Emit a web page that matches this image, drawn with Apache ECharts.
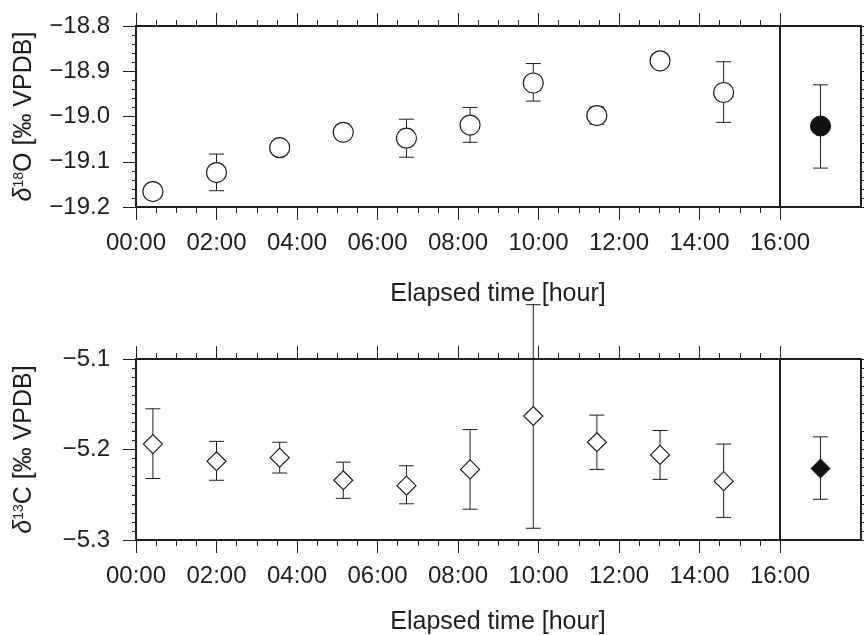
<!DOCTYPE html>
<html>
<head>
<meta charset="utf-8">
<script src="https://cdn.jsdelivr.net/npm/echarts@6/dist/echarts.min.js"></script>
<style>
  html, body { margin: 0; padding: 0; background: #fff; }
  #chart { width: 864px; height: 635px; }
</style>
</head>
<body>
<div id="chart"></div>
<script>
// elapsed time of each measurement (hours)
var hours = [0.42, 2.0, 3.57, 5.15, 6.72, 8.3, 9.87, 11.45, 13.02, 14.6];

// d18O values with error bar limits
var d18O     = [-19.166, -19.124, -19.069, -19.035, -19.048, -19.019, -18.926, -18.998, -18.877, -18.947];
var d18OLow  = [-19.170, -19.164, -19.073, -19.039, -19.090, -19.057, -18.966, -19.017, -18.881, -19.013];
var d18OHigh = [-19.162, -19.083, -19.065, -19.031, -19.006, -18.980, -18.883, -18.979, -18.873, -18.879];

// d13C values with error bar limits
var d13C     = [-5.194, -5.213, -5.209, -5.234, -5.240, -5.222, -5.163, -5.192, -5.206, -5.235];
var d13CLow  = [-5.232, -5.234, -5.226, -5.254, -5.260, -5.266, -5.287, -5.222, -5.233, -5.275];
var d13CHigh = [-5.155, -5.191, -5.192, -5.214, -5.218, -5.178, -5.040, -5.162, -5.179, -5.194];

// mean values (right box)
var meanHour = 17.0;
var d18OMean = [-19.021, -19.114, -18.930]; // value, low, high
var d13CMean = [-5.221, -5.255, -5.186];

var ink = '#1e1e1e';
var font = 'Liberation Sans, Arial, sans-serif';

function pts(xs, ys) {
  return xs.map(function (x, i) { return [x, ys[i]]; });
}
function bars(xs, lo, hi) {
  return xs.map(function (x, i) { return [x, lo[i], hi[i]]; });
}

function errorBar(params, api) {
  var x = api.value(0);
  var top = api.coord([x, api.value(2)]);
  var bot = api.coord([x, api.value(1)]);
  var w = 7.5;
  var st = { stroke: ink, lineWidth: 1 };
  return {
    type: 'group',
    children: [
      { type: 'line', shape: { x1: top[0], y1: top[1], x2: bot[0], y2: bot[1] }, style: st },
      { type: 'line', shape: { x1: top[0] - w, y1: top[1], x2: top[0] + w, y2: top[1] }, style: st },
      { type: 'line', shape: { x1: bot[0] - w, y1: bot[1], x2: bot[0] + w, y2: bot[1] }, style: st }
    ]
  };
}

function hhmm(v) {
  return (v < 10 ? '0' : '') + v + ':00';
}

function timeAxis(gridIndex, pos) {
  return {
    type: 'value', gridIndex: gridIndex, position: pos,
    min: 0, max: 16, interval: 2,
    axisLine: { show: false, onZero: false },
    axisTick: { show: true, length: 13, lineStyle: { color: ink, width: 1 } },
    minorTick: { show: true, splitNumber: 4, length: 6, lineStyle: { color: ink, width: 1 } },
    splitLine: { show: false },
    axisLabel: {
      show: pos === 'bottom', margin: 24, color: ink, fontSize: 24, fontFamily: font,
      formatter: hhmm
    }
  };
}

function boxXAxis(gridIndex) {
  return {
    type: 'value', gridIndex: gridIndex, min: 16, max: 18,
    axisLine: { show: false, onZero: false }, axisTick: { show: false },
    axisLabel: { show: false }, splitLine: { show: false }
  };
}

function leftYAxis(gridIndex, min, max, minorSplit, nameRich) {
  return {
    type: 'value', gridIndex: gridIndex, position: 'left',
    min: min, max: max, interval: 0.1,
    axisLine: { show: false },
    axisTick: { show: true, length: 13, lineStyle: { color: ink, width: 1 } },
    minorTick: { show: true, splitNumber: minorSplit, length: 4, lineStyle: { color: ink, width: 1 } },
    splitLine: { show: false },
    axisLabel: {
      margin: 26, color: ink, fontSize: 24, fontFamily: font,
      formatter: function (v) { return v.toFixed(1).replace('-', '\u2212'); }
    },
    name: nameRich, nameLocation: 'middle', nameRotate: 90, nameGap: 98,
    nameTextStyle: {
      color: ink, fontSize: 25, fontFamily: font, lineHeight: 28,
      rich: {
        d: { fontStyle: 'italic', fontSize: 25, fontFamily: font, color: ink, lineHeight: 28 },
        s: { fontSize: 14, fontFamily: font, color: ink, verticalAlign: 'top', lineHeight: 14, padding: [2, 0, 0, 0] },
        t: { fontSize: 25, fontFamily: font, color: ink, lineHeight: 28 }
      }
    }
  };
}

function rightYAxis(gridIndex, min, max, step) {
  return {
    type: 'value', gridIndex: gridIndex, position: 'right',
    min: min, max: max, interval: step,
    axisLine: { show: false },
    axisTick: { show: true, length: 3, lineStyle: { color: ink, width: 1 } },
    axisLabel: { show: false }, splitLine: { show: false }
  };
}

var gridStyle = { show: true, borderColor: ink, borderWidth: 2, backgroundColor: 'transparent' };

var chart = echarts.init(document.getElementById('chart'));
chart.setOption({
  animation: false,
  backgroundColor: '#fff',
  grid: [
    Object.assign({ left: 136, top: 26, width: 644, height: 181 }, gridStyle),
    Object.assign({ left: 780, top: 26, width: 81, height: 181 }, gridStyle),
    Object.assign({ left: 136, top: 359, width: 644, height: 181 }, gridStyle),
    Object.assign({ left: 780, top: 359, width: 81, height: 181 }, gridStyle)
  ],
  xAxis: [
    timeAxis(0, 'bottom'), // 0
    timeAxis(0, 'top'),    // 1
    boxXAxis(1),           // 2
    timeAxis(2, 'bottom'), // 3
    timeAxis(2, 'top'),    // 4
    boxXAxis(3)            // 5
  ],
  yAxis: [
    leftYAxis(0, -19.2, -18.8, 5, '{d|δ}{s|18}{t|O [‰ VPDB]}'),
    rightYAxis(1, -19.2, -18.8, 0.02),
    leftYAxis(2, -5.3, -5.1, 10, '{d|δ}{s|13}{t|C [‰ VPDB]}'),
    rightYAxis(3, -5.3, -5.1, 0.01)
  ],
  graphic: [
    { type: 'text', x: 498, y: 294, style: { text: 'Elapsed time [hour]', fill: ink, font: '25px ' + font, textAlign: 'center', textVerticalAlign: 'middle' } },
    { type: 'text', x: 498, y: 622, style: { text: 'Elapsed time [hour]', fill: ink, font: '25px ' + font, textAlign: 'center', textVerticalAlign: 'middle' } }
  ],
  series: [
    { type: 'custom', xAxisIndex: 0, yAxisIndex: 0, z: 2, renderItem: errorBar, data: bars(hours, d18OLow, d18OHigh), encode: { x: 0, y: [1, 2] } },
    { type: 'scatter', xAxisIndex: 0, yAxisIndex: 0, z: 3, symbol: 'circle', symbolSize: 20,
      itemStyle: { color: '#fff', borderColor: ink, borderWidth: 1.2, opacity: 1 }, data: pts(hours, d18O) },
    { type: 'custom', xAxisIndex: 2, yAxisIndex: 1, z: 2, renderItem: errorBar, data: [[meanHour, d18OMean[1], d18OMean[2]]], encode: { x: 0, y: [1, 2] } },
    { type: 'scatter', xAxisIndex: 2, yAxisIndex: 1, z: 3, symbol: 'circle', symbolSize: 20,
      itemStyle: { color: '#111', borderColor: '#111', borderWidth: 1, opacity: 1 }, data: [[meanHour, d18OMean[0]]] },

    { type: 'custom', xAxisIndex: 3, yAxisIndex: 2, z: 2, renderItem: errorBar, data: bars(hours, d13CLow, d13CHigh), encode: { x: 0, y: [1, 2] } },
    { type: 'scatter', xAxisIndex: 3, yAxisIndex: 2, z: 3, symbol: 'diamond', symbolSize: [19, 19],
      itemStyle: { color: '#fff', borderColor: ink, borderWidth: 1.2, opacity: 1 }, data: pts(hours, d13C) },
    { type: 'custom', xAxisIndex: 5, yAxisIndex: 3, z: 2, renderItem: errorBar, data: [[meanHour, d13CMean[1], d13CMean[2]]], encode: { x: 0, y: [1, 2] } },
    { type: 'scatter', xAxisIndex: 5, yAxisIndex: 3, z: 3, symbol: 'diamond', symbolSize: [19, 19],
      itemStyle: { color: '#111', borderColor: '#111', borderWidth: 1, opacity: 1 }, data: [[meanHour, d13CMean[0]]] }
  ]
});
</script>
</body>
</html>
